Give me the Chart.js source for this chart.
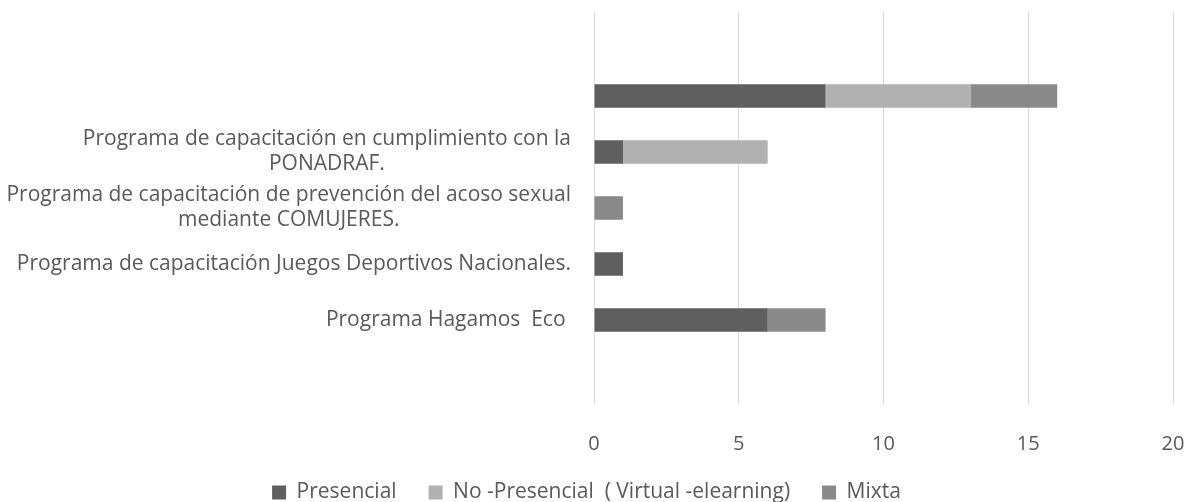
<!DOCTYPE html>
<html>
<head>
<meta charset="utf-8">
<script src="https://cdn.jsdelivr.net/npm/chart.js@4.4.1/dist/chart.umd.min.js"></script>
<style>
  html, body { margin: 0; padding: 0; background: #ffffff; }
  #wrap { width: 1194px; height: 502px; }
</style>
</head>
<body>
<div id="wrap"><canvas id="chart" width="1194" height="502"></canvas></div>
<script>
// categorias (la primera y la ultima van vacias, como en el original)
const categories = [
    [''],
    [''],
    ['Programa de capacitación en cumplimiento con la', 'PONADRAF.'],
    ['Programa de capacitación de prevención del acoso sexual', 'mediante COMUJERES.'],
    ['Programa de capacitación Juegos Deportivos Nacionales.'],
    ['Programa Hagamos  Eco '],
    ['']
];
const seriesNames = ['Presencial', 'No -Presencial  ( Virtual -elearning)', 'Mixta'];
const presencial   = [0, 8, 1, 0, 1, 6, 0];
const noPresencial = [0, 5, 5, 0, 0, 0, 0];
const mixta        = [0, 3, 0, 1, 0, 2, 0];
const xTicks = [0, 5, 10, 15, 20];

const colors = ['#5f5f5f', '#b1b1b1', '#898989'];
const textColor = '#595959';
const fontFamily = "'Open Sans', 'Noto Sans', sans-serif";

// etiquetas del eje Y: bloque alineado a la derecha, lineas centradas entre si
const labelPlugin = {
    id: 'catLabels',
    afterDraw(chart) {
        const ctx = chart.ctx;
        const yScale = chart.scales.y;
        const right = chart.chartArea.left - 23;
        const lineH = 25;
        ctx.save();
        ctx.font = '21px ' + fontFamily;
        ctx.fillStyle = textColor;
        ctx.textAlign = 'center';
        ctx.textBaseline = 'middle';
        categories.forEach((lines, i) => {
            const yc = yScale.getPixelForValue(i);
            const maxW = Math.max(...lines.map(l => ctx.measureText(l).width));
            const xc = right - maxW / 2;
            lines.forEach((l, j) => {
                ctx.fillText(l, xc, yc + (j - (lines.length - 1) / 2) * lineH);
            });
        });
        ctx.restore();
    }
};

const ctx = document.getElementById('chart').getContext('2d');
new Chart(ctx, {
    type: 'bar',
    data: {
        labels: categories.map((c, i) => String(i)),
        datasets: [
            { label: seriesNames[0], data: presencial, backgroundColor: colors[0] },
            { label: seriesNames[1], data: noPresencial, backgroundColor: colors[1] },
            { label: seriesNames[2], data: mixta, backgroundColor: colors[2] }
        ]
    },
    options: {
        indexAxis: 'y',
        responsive: false,
        animation: false,
        devicePixelRatio: 1,
        layout: { padding: { top: 12, right: 21, left: 0, bottom: -11 } },
        datasets: {
            bar: {
                categoryPercentage: 1,
                barPercentage: 0.42,
                borderWidth: 0
            }
        },
        scales: {
            x: {
                stacked: true,
                min: 0,
                max: 20,
                afterBuildTicks(scale) {
                    scale.ticks = xTicks.map(v => ({ value: v }));
                },
                afterFit(scale) {
                    scale.height = 46;
                    scale.paddingLeft = 0;
                    scale.paddingRight = 0;
                    // sin recorte: las etiquetas bajan un poco dentro de la zona de la leyenda
                    scale._computeLabelArea = () => undefined;
                },
                grid: { color: '#d9d9d9', lineWidth: 1, drawTicks: false },
                border: { display: false },
                ticks: {
                    color: textColor,
                    font: { family: fontFamily, size: 20 },
                    padding: 28
                }
            },
            y: {
                stacked: true,
                grid: { display: false },
                border: { display: false },
                ticks: { display: false },
                afterFit(scale) {
                    scale.width = 594;
                }
            }
        },
        plugins: {
            legend: {
                position: 'bottom',
                labels: {
                    color: textColor,
                    font: { family: fontFamily, size: 21 },
                    boxWidth: 14,
                    boxHeight: 14,
                    padding: 32
                }
            },
            tooltip: { enabled: false }
        }
    },
    plugins: [labelPlugin]
});
</script>
</body>
</html>
